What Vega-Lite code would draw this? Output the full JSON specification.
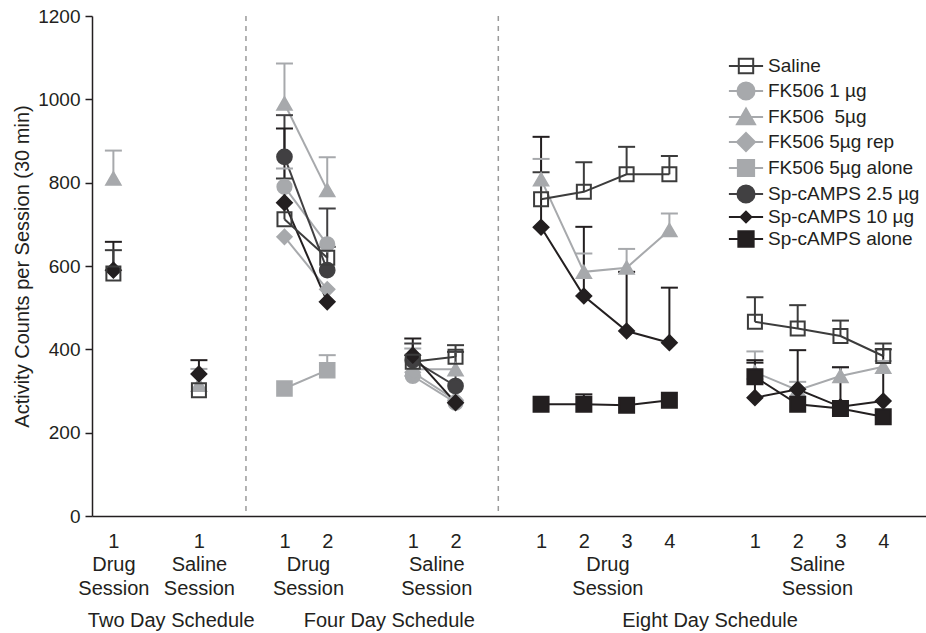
{
  "$schema": "https://vega.github.io/schema/vega-lite/v6.json",
  "width": 834,
  "height": 500,
  "autosize": {"type": "none"},
  "padding": {"left": 92, "top": 16, "right": 0, "bottom": 117},
  "background": "white",
  "config": {
    "font": "Liberation Sans",
    "view": {"stroke": null}
  },
  "datasets": {
    "points": [
      {"s": "FK506 1 µg", "g": "4D-D", "x": 4.5, "y": 790, "hi": 834},
      {"s": "FK506 1 µg", "g": "4D-D", "x": 5.5, "y": 652},
      {"s": "FK506 1 µg", "g": "4D-S", "x": 7.5, "y": 336},
      {"s": "FK506 1 µg", "g": "4D-S", "x": 8.5, "y": 272},
      {"s": "FK506\u00a0 5µg", "g": "2D-D", "x": 0.5, "y": 810, "hi": 877},
      {"s": "FK506\u00a0 5µg", "g": "2D-S", "x": 2.5, "y": 315, "hi": 353},
      {"s": "FK506\u00a0 5µg", "g": "4D-D", "x": 4.5, "y": 990, "hi": 1086},
      {"s": "FK506\u00a0 5µg", "g": "4D-D", "x": 5.5, "y": 782, "hi": 861},
      {"s": "FK506\u00a0 5µg", "g": "4D-S", "x": 7.5, "y": 352, "hi": 402},
      {"s": "FK506\u00a0 5µg", "g": "4D-S", "x": 8.5, "y": 352, "hi": 394},
      {"s": "FK506\u00a0 5µg", "g": "8D-D", "x": 10.5, "y": 808, "hi": 857},
      {"s": "FK506\u00a0 5µg", "g": "8D-D", "x": 11.5, "y": 586, "hi": 630},
      {"s": "FK506\u00a0 5µg", "g": "8D-D", "x": 12.5, "y": 596, "hi": 641},
      {"s": "FK506\u00a0 5µg", "g": "8D-D", "x": 13.5, "y": 686, "hi": 726},
      {"s": "FK506\u00a0 5µg", "g": "8D-S", "x": 15.5, "y": 345, "hi": 395},
      {"s": "FK506\u00a0 5µg", "g": "8D-S", "x": 16.5, "y": 302, "hi": 322},
      {"s": "FK506\u00a0 5µg", "g": "8D-S", "x": 17.5, "y": 336, "hi": 357},
      {"s": "FK506\u00a0 5µg", "g": "8D-S", "x": 18.5, "y": 358, "hi": 372},
      {"s": "FK506 5µg rep", "g": "4D-D", "x": 4.5, "y": 670},
      {"s": "FK506 5µg rep", "g": "4D-D", "x": 5.5, "y": 544},
      {"s": "FK506 5µg rep", "g": "4D-S", "x": 7.5, "y": 345},
      {"s": "FK506 5µg rep", "g": "4D-S", "x": 8.5, "y": 278},
      {"s": "FK506 5µg alone", "g": "4D-D", "x": 4.5, "y": 306},
      {"s": "FK506 5µg alone", "g": "4D-D", "x": 5.5, "y": 350, "hi": 386},
      {"s": "Sp-cAMPS 2.5 µg", "g": "4D-D", "x": 4.5, "y": 862, "hi": 962},
      {"s": "Sp-cAMPS 2.5 µg", "g": "4D-D", "x": 5.5, "y": 590, "hi": 738},
      {"s": "Sp-cAMPS 2.5 µg", "g": "4D-S", "x": 7.5, "y": 374, "hi": 414},
      {"s": "Sp-cAMPS 2.5 µg", "g": "4D-S", "x": 8.5, "y": 312, "hi": 394},
      {"s": "Sp-cAMPS 10 µg", "g": "2D-D", "x": 0.5, "y": 590, "hi": 658},
      {"s": "Sp-cAMPS 10 µg", "g": "2D-S", "x": 2.5, "y": 341, "hi": 374},
      {"s": "Sp-cAMPS 10 µg", "g": "4D-D", "x": 4.5, "y": 752, "hi": 930},
      {"s": "Sp-cAMPS 10 µg", "g": "4D-D", "x": 5.5, "y": 514},
      {"s": "Sp-cAMPS 10 µg", "g": "4D-S", "x": 7.5, "y": 386, "hi": 426},
      {"s": "Sp-cAMPS 10 µg", "g": "4D-S", "x": 8.5, "y": 272},
      {"s": "Sp-cAMPS 10 µg", "g": "8D-D", "x": 10.5, "y": 693, "hi": 910},
      {"s": "Sp-cAMPS 10 µg", "g": "8D-D", "x": 11.5, "y": 528, "hi": 694},
      {"s": "Sp-cAMPS 10 µg", "g": "8D-D", "x": 12.5, "y": 444, "hi": 586},
      {"s": "Sp-cAMPS 10 µg", "g": "8D-D", "x": 13.5, "y": 416, "hi": 548},
      {"s": "Sp-cAMPS 10 µg", "g": "8D-S", "x": 15.5, "y": 284, "hi": 368},
      {"s": "Sp-cAMPS 10 µg", "g": "8D-S", "x": 16.5, "y": 304, "hi": 398},
      {"s": "Sp-cAMPS 10 µg", "g": "8D-S", "x": 17.5, "y": 262, "hi": 357},
      {"s": "Sp-cAMPS 10 µg", "g": "8D-S", "x": 18.5, "y": 276, "hi": 400},
      {"s": "Sp-cAMPS alone", "g": "8D-D", "x": 10.5, "y": 268},
      {"s": "Sp-cAMPS alone", "g": "8D-D", "x": 11.5, "y": 268, "hi": 292},
      {"s": "Sp-cAMPS alone", "g": "8D-D", "x": 12.5, "y": 266},
      {"s": "Sp-cAMPS alone", "g": "8D-D", "x": 13.5, "y": 278},
      {"s": "Sp-cAMPS alone", "g": "8D-S", "x": 15.5, "y": 334, "hi": 374},
      {"s": "Sp-cAMPS alone", "g": "8D-S", "x": 16.5, "y": 268},
      {"s": "Sp-cAMPS alone", "g": "8D-S", "x": 17.5, "y": 258},
      {"s": "Sp-cAMPS alone", "g": "8D-S", "x": 18.5, "y": 238},
      {"s": "Saline", "g": "2D-D", "x": 0.5, "y": 582, "hi": 638},
      {"s": "Saline", "g": "2D-S", "x": 2.5, "y": 302},
      {"s": "Saline", "g": "4D-D", "x": 4.5, "y": 712, "hi": 810},
      {"s": "Saline", "g": "4D-D", "x": 5.5, "y": 620, "hi": 646},
      {"s": "Saline", "g": "4D-S", "x": 7.5, "y": 370},
      {"s": "Saline", "g": "4D-S", "x": 8.5, "y": 382, "hi": 410},
      {"s": "Saline", "g": "8D-D", "x": 10.5, "y": 760, "hi": 825},
      {"s": "Saline", "g": "8D-D", "x": 11.5, "y": 778, "hi": 849},
      {"s": "Saline", "g": "8D-D", "x": 12.5, "y": 820, "hi": 886},
      {"s": "Saline", "g": "8D-D", "x": 13.5, "y": 820, "hi": 864},
      {"s": "Saline", "g": "8D-S", "x": 15.5, "y": 466, "hi": 525},
      {"s": "Saline", "g": "8D-S", "x": 16.5, "y": 450, "hi": 506},
      {"s": "Saline", "g": "8D-S", "x": 17.5, "y": 432, "hi": 469},
      {"s": "Saline", "g": "8D-S", "x": 18.5, "y": 384, "hi": 414}
    ],
    "seps": [{"x": 3.6}, {"x": 9.5}]
  },
  "data": {"name": "points"},
  "encoding": {
    "x": {
      "field": "x",
      "type": "quantitative",
      "scale": {"domain": [0, 19.5], "nice": false, "zero": false},
      "axis": {
        "title": null,
        "values": [0.5, 2.5, 4.5, 5.5, 5.05, 7.5, 8.5, 8.05, 10.5, 11.5, 12.5, 13.5, 12.05, 15.5, 16.5, 17.5, 18.5, 16.95, 1.84, 6.94, 14.44],
        "labelExpr": "datum.value==0.5?['1','\u200b','\u200b','Drug','\u200b','\u200b','Session']:datum.value==2.5?['1','\u200b','\u200b','Saline','\u200b','\u200b','Session']:datum.value==5.05?['\u200b','\u200b','\u200b','Drug','\u200b','\u200b','Session']:datum.value==8.05?['\u200b','\u200b','\u200b','Saline','\u200b','\u200b','Session']:datum.value==12.05?['\u200b','\u200b','\u200b','Drug','\u200b','\u200b','Session']:datum.value==16.95?['\u200b','\u200b','\u200b','Saline','\u200b','\u200b','Session']:datum.value==1.84?['\u200b','\u200b','\u200b','\u200b','\u200b','\u200b','\u200b','\u200b','\u200b','\u200b','Two Day Schedule']:datum.value==6.94?['\u200b','\u200b','\u200b','\u200b','\u200b','\u200b','\u200b','\u200b','\u200b','\u200b','Four Day Schedule']:datum.value==14.44?['\u200b','\u200b','\u200b','\u200b','\u200b','\u200b','\u200b','\u200b','\u200b','\u200b','Eight Day Schedule']:(datum.value==4.5||datum.value==7.5||datum.value==10.5||datum.value==15.5)?'1':(datum.value==5.5||datum.value==8.5||datum.value==11.5||datum.value==16.5)?'2':(datum.value==12.5||datum.value==17.5)?'3':'4'",
        "ticks": false,
        "grid": false,
        "domainColor": "#231f20",
        "domainWidth": 1.5,
        "labelFontSize": 20,
        "labelColor": "#231f20",
        "labelPadding": 15,
        "labelLineHeight": 7.9,
        "labelOverlap": false,
        "labelBound": false,
        "labelFlush": false,
        "labelAngle": 0
      }
    }
  },
  "resolve": {"scale": {"stroke": "independent", "fill": "independent", "shape": "independent", "size": "independent"}},
  "layer": [
    {
      "data": {"name": "seps"},
      "mark": {"type": "rule", "strokeDash": [5, 5], "strokeWidth": 1.5, "stroke": "#9a9a9a"},
      "encoding": {}
    },
    {
      "mark": {"type": "line", "strokeWidth": 2},
      "encoding": {
        "y": {
          "field": "y", "type": "quantitative", "title": "Activity Counts per Session (30 min)",
          "scale": {"domain": [0, 1200], "nice": false},
          "axis": {
            "values": [0, 200, 400, 600, 800, 1000, 1200], "format": "d", "grid": false,
            "tickSize": 7, "tickWidth": 1.5, "tickColor": "#231f20", "domainColor": "#231f20", "domainWidth": 1.5,
            "labelFontSize": 19, "labelColor": "#231f20", "labelPadding": 5,
            "titleFontSize": 20, "titleFontWeight": "normal", "titleColor": "#231f20", "titlePadding": 5
          }
        },
        "detail": {"field": "g", "type": "nominal"},
        "stroke": {
          "field": "s", "type": "nominal", "legend": null,
          "scale": {
            "domain": ["Saline", "FK506 1 µg", "FK506\u00a0 5µg", "FK506 5µg rep", "FK506 5µg alone", "Sp-cAMPS 2.5 µg", "Sp-cAMPS 10 µg", "Sp-cAMPS alone"],
            "range": ["#3c3c3c", "#a7a9ac", "#a7a9ac", "#a7a9ac", "#a7a9ac", "#414042", "#231f20", "#231f20"]
          }
        }
      }
    },
    {
      "transform": [{"filter": "isValid(datum.hi)"}],
      "mark": {"type": "rule", "strokeWidth": 2},
      "encoding": {
        "y": {"field": "y", "type": "quantitative", "title": "Activity Counts per Session (30 min)"},
        "y2": {"field": "hi"},
        "stroke": {
          "field": "s", "type": "nominal", "legend": null,
          "scale": {
            "domain": ["Saline", "FK506 1 µg", "FK506\u00a0 5µg", "FK506 5µg rep", "FK506 5µg alone", "Sp-cAMPS 2.5 µg", "Sp-cAMPS 10 µg", "Sp-cAMPS alone"],
            "range": ["#3c3c3c", "#a7a9ac", "#a7a9ac", "#a7a9ac", "#a7a9ac", "#414042", "#231f20", "#231f20"]
          }
        }
      }
    },
    {
      "transform": [{"filter": "isValid(datum.hi)"}],
      "mark": {"type": "point", "shape": "stroke", "size": 289, "strokeWidth": 2, "opacity": 1},
      "encoding": {
        "y": {"field": "hi", "type": "quantitative", "title": "Activity Counts per Session (30 min)"},
        "stroke": {
          "field": "s", "type": "nominal", "legend": null,
          "scale": {
            "domain": ["Saline", "FK506 1 µg", "FK506\u00a0 5µg", "FK506 5µg rep", "FK506 5µg alone", "Sp-cAMPS 2.5 µg", "Sp-cAMPS 10 µg", "Sp-cAMPS alone"],
            "range": ["#3c3c3c", "#a7a9ac", "#a7a9ac", "#a7a9ac", "#a7a9ac", "#414042", "#231f20", "#231f20"]
          }
        }
      }
    },
    {
      "mark": {"type": "point", "strokeWidth": 2, "opacity": 1},
      "encoding": {
        "y": {"field": "y", "type": "quantitative", "title": "Activity Counts per Session (30 min)"},
        "stroke": {
          "field": "s", "type": "nominal", "legend": null,
          "scale": {
            "domain": ["Saline", "FK506 1 µg", "FK506\u00a0 5µg", "FK506 5µg rep", "FK506 5µg alone", "Sp-cAMPS 2.5 µg", "Sp-cAMPS 10 µg", "Sp-cAMPS alone"],
            "range": ["#3c3c3c", "#a7a9ac", "#a7a9ac", "#a7a9ac", "#a7a9ac", "#414042", "#231f20", "#231f20"]
          }
        },
        "shape": {
          "field": "s", "type": "nominal", "legend": null,
          "scale": {
            "domain": ["Saline", "FK506 1 µg", "FK506\u00a0 5µg", "FK506 5µg rep", "FK506 5µg alone", "Sp-cAMPS 2.5 µg", "Sp-cAMPS 10 µg", "Sp-cAMPS alone"],
            "range": ["square", "circle", "triangle-up", "diamond", "square", "circle", "diamond", "square"]
          }
        },
        "fill": {
          "field": "s", "type": "nominal", "legend": null,
          "scale": {
            "domain": ["Saline", "FK506 1 µg", "FK506\u00a0 5µg", "FK506 5µg rep", "FK506 5µg alone", "Sp-cAMPS 2.5 µg", "Sp-cAMPS 10 µg", "Sp-cAMPS alone"],
            "range": ["transparent", "#a7a9ac", "#a7a9ac", "#a7a9ac", "#a7a9ac", "#414042", "#231f20", "#231f20"]
          }
        },
        "size": {
          "field": "s", "type": "nominal", "legend": null,
          "scale": {
            "domain": ["Saline", "FK506 1 µg", "FK506\u00a0 5µg", "FK506 5µg rep", "FK506 5µg alone", "Sp-cAMPS 2.5 µg", "Sp-cAMPS 10 µg", "Sp-cAMPS alone"],
            "range": [196, 225, 225, 225, 196, 225, 100, 169]
          }
        }
      }
    },
    {
      "transform": [{"filter": "datum.y < 0"}],
      "mark": {"type": "point", "strokeWidth": 2, "opacity": 1},
      "encoding": {
        "y": {"field": "y", "type": "quantitative", "title": "Activity Counts per Session (30 min)"},
        "stroke": {
          "field": "s", "type": "nominal",
          "scale": {
            "domain": ["Saline", "FK506 1 µg", "FK506\u00a0 5µg", "FK506 5µg rep", "FK506 5µg alone", "Sp-cAMPS 2.5 µg", "Sp-cAMPS 10 µg", "Sp-cAMPS alone"],
            "range": ["#3c3c3c", "#a7a9ac", "#a7a9ac", "#a7a9ac", "#a7a9ac", "#414042", "#231f20", "#231f20"]
          },
          "legend": {
            "title": null, "orient": "none", "legendX": 644, "legendY": 40, "padding": 0, "rowPadding": 0,
            "symbolSize": 324, "symbolStrokeWidth": 2, "symbolOpacity": 1,
            "labelFontSize": 19, "labelColor": "#231f20", "labelOffset": 12, "labelLimit": 300
          }
        },
        "fill": {
          "field": "s", "type": "nominal",
          "scale": {
            "domain": ["Saline", "FK506 1 µg", "FK506\u00a0 5µg", "FK506 5µg rep", "FK506 5µg alone", "Sp-cAMPS 2.5 µg", "Sp-cAMPS 10 µg", "Sp-cAMPS alone"],
            "range": ["transparent", "#a7a9ac", "#a7a9ac", "#a7a9ac", "#a7a9ac", "#414042", "#231f20", "#231f20"]
          },
          "legend": {
            "title": null, "orient": "none", "legendX": 644, "legendY": 40, "padding": 0, "rowPadding": 0,
            "symbolSize": 324, "symbolStrokeWidth": 2, "symbolOpacity": 1,
            "labelFontSize": 19, "labelColor": "#231f20", "labelOffset": 12, "labelLimit": 300
          }
        },
        "shape": {
          "field": "s", "type": "nominal",
          "scale": {
            "domain": ["Saline", "FK506 1 µg", "FK506\u00a0 5µg", "FK506 5µg rep", "FK506 5µg alone", "Sp-cAMPS 2.5 µg", "Sp-cAMPS 10 µg", "Sp-cAMPS alone"],
            "range": [
              "M-1.9,0H1.9M-0.8,-0.8H0.8V0.8H-0.8Z",
              "M-1.9,0H1.9M0.95,0A0.95,0.95,0,1,1,-0.95,0A0.95,0.95,0,1,1,0.95,0Z",
              "M-1.9,0H1.9M0,-0.95L1,0.8H-1Z",
              "M-1.9,0H1.9M0,-1L1,0L0,1L-1,0Z",
              "M-1.9,0H1.9M-0.9,-0.9H0.9V0.9H-0.9Z",
              "M-1.9,0H1.9M0.95,0A0.95,0.95,0,1,1,-0.95,0A0.95,0.95,0,1,1,0.95,0Z",
              "M-1.9,0H1.9M0,-0.6L0.6,0L0,0.6L-0.6,0Z",
              "M-1.9,0H1.9M-0.85,-0.85H0.85V0.85H-0.85Z"
            ]
          },
          "legend": {
            "title": null, "orient": "none", "legendX": 644, "legendY": 40, "padding": 0, "rowPadding": 0,
            "symbolSize": 324, "symbolStrokeWidth": 2, "symbolOpacity": 1,
            "labelFontSize": 19, "labelColor": "#231f20", "labelOffset": 12, "labelLimit": 300
          }
        }
      }
    }
  ]
}
